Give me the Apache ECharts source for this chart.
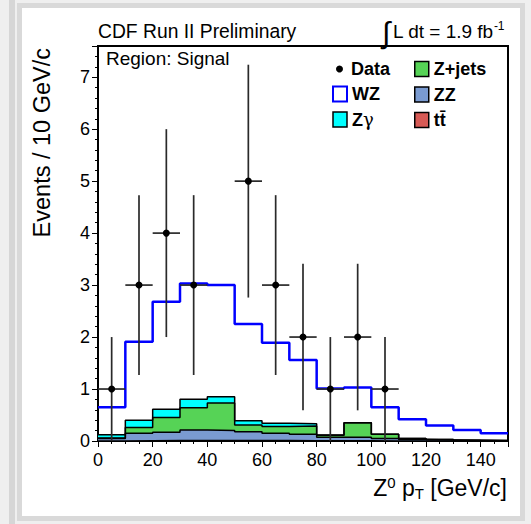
<!DOCTYPE html>
<html><head><meta charset="utf-8">
<script src="https://cdn.jsdelivr.net/npm/echarts@6/dist/echarts.min.js"></script>
<style>html,body{margin:0;padding:0;background:#efefef}#c{width:531px;height:524px}</style>
</head><body><div id="c"></div>
<script>
// ---- data ----
const binEdges = [0,10,20,30,40,50,60,70,80,90,100,110,120,130,140,150];
const ttbar  = [0,0.005,0.01,0.012,0.012,0.01,0.008,0.005,0.004,0.004,0.002,0,0,0,0];
const zz     = [0.05,0.145,0.16,0.2,0.19,0.17,0.142,0.125,0.066,0.066,0.048,0.03,0.02,0.01,0.005];
const zjets  = [0.01,0.11,0.28,0.43,0.53,0.13,0.13,0.16,0.04,0.28,0.08,0.02,0.01,0.005,0.005];
const zgamma = [0.06,0.14,0.16,0.16,0.12,0.08,0.06,0.04,0.005,0,0,0,0,0,0];
const wz     = [0.53,1.51,2.07,2.23,2.15,1.86,1.55,1.23,0.895,0.68,0.52,0.37,0.27,0.195,0.14];
const dataX   = [5,15,25,35,55,65,75,85,95,105];
const dataY   = [1,3,4,3,5,3,2,1,2,1];
const dataErr = [1.0,1.73,2.0,1.73,2.24,1.73,1.41,1.0,1.41,1.0];
const binWidth = 10;
const xRange = [0,150], xStep = 20;
const yRange = [0,7.6], yStep = 1;

const F = "'Liberation Sans', Arial, Helvetica, sans-serif";
const C = {tt:'#d65a55', zz:'#7a9bd1', zj:'#56d356', zg:'#00ffff', wz:'#0000ff'};

// stack the contributions (THStack style: each layer drawn from 0, top layer first)
function addArr(a, b){ return a.map((v,i)=>v + b[i]); }
const cTT = ttbar.slice();
const cZZ = addArr(cTT, zz);
const cZJ = addArr(cZZ, zjets);
const cZG = addArr(cZJ, zgamma);
const cWZ = addArr(cZG, wz);

function steps(v){
  const d = v.map((y,i)=>[binEdges[i], y]);
  d.push([binEdges[binEdges.length-1], v[v.length-1]]);
  return d;
}
function layer(name, vals, fill){
  return {name, type:'line', step:'end', data:steps(vals), symbol:'none', showSymbol:false,
    lineStyle:{color:'#000', width:1.5}, areaStyle:{color:fill, opacity:1, origin:'start'},
    itemStyle:{color:fill}, color:fill, silent:true};
}

const chart = echarts.init(document.getElementById('c'), null, {renderer:'svg'});
const axisCommon = {
  axisLine:{show:true, lineStyle:{color:'#000', width:2}},
  axisTick:{show:true, length:6, lineStyle:{color:'#000', width:1}},
  splitLine:{show:false}
};
const lab = {color:'#000', fontSize:18, fontFamily:F, showMaxLabel:false};
const legText = {fontSize:18, fontWeight:'bold', fontFamily:F, color:'#000',
  rich:{b:{fontSize:18, fontWeight:'bold', fontFamily:F, color:'#000'},
        g:{fontSize:18, fontWeight:'normal', fontFamily:"'DejaVu Serif', serif", color:'#000'}}};
chart.setOption({
  animation:false,
  grid:{left:98, right:23, top:46, bottom:83, show:true, borderColor:'#000', borderWidth:2, backgroundColor:'transparent'},
  xAxis:Object.assign({type:'value', min:xRange[0], max:xRange[1], interval:xStep,
    minorTick:{show:true, splitNumber:4, length:3, lineStyle:{color:'#000', width:1}},
    axisLabel:Object.assign({margin:10}, lab)}, axisCommon),
  yAxis:Object.assign({type:'value', min:yRange[0], max:yRange[1], interval:yStep,
    minorTick:{show:true, splitNumber:5, length:3, lineStyle:{color:'#000', width:1}},
    axisLabel:Object.assign({margin:8}, lab)}, axisCommon),
  legend:[
    {data:[{name:'Data', icon:'circle'}], left:336, top:60, orient:'vertical', itemWidth:7, itemHeight:7, padding:0,
     selectedMode:false, textStyle:Object.assign({padding:[0,0,0,3]}, legText)},
    {data:[{name:'WZ', icon:'rect', itemStyle:{color:'#ffffff', borderColor:C.wz, borderWidth:2}},
           {name:'Z\u03b3', icon:'rect', itemStyle:{color:C.zg, borderColor:'#000', borderWidth:1.5}}],
     left:332, top:85, orient:'vertical', itemWidth:14, itemHeight:15, itemGap:7.5, padding:0, selectedMode:false,
     formatter:function(n){ return n === 'Z\u03b3' ? '{b|Z}{g|\u03b3}' : '{b|' + n + '}'; },
     textStyle:legText},
    {data:[{name:'Z+jets', icon:'rect', itemStyle:{color:C.zj, borderColor:'#000', borderWidth:1.5}},
           {name:'ZZ', icon:'rect', itemStyle:{color:C.zz, borderColor:'#000', borderWidth:1.5}},
           {name:'tt\u0304', icon:'rect', itemStyle:{color:C.tt, borderColor:'#000', borderWidth:1.5}}],
     left:414, top:60, orient:'vertical', itemWidth:14, itemHeight:15, itemGap:7.5, padding:0, selectedMode:false,
     textStyle:legText}
  ],
  series:[
    {name:'WZ', type:'line', step:'end', data:steps(cWZ), symbol:'none', showSymbol:false, z:3,
     lineStyle:{color:C.wz, width:2.5}, itemStyle:{color:C.wz}, color:C.wz, silent:true},
    layer('Z\u03b3', cZG, C.zg),
    layer('Z+jets', cZJ, C.zj),
    layer('ZZ', cZZ, C.zz),
    layer('tt\u0304', cTT, C.tt),
    {name:'Data', type:'custom', z:5, silent:true, itemStyle:{color:'#000'}, color:'#000',
     data:dataX.map((x,i)=>[x, dataY[i], dataErr[i]]), encode:{x:0, y:1},
     renderItem:function(params, api){
       const x=api.value(0), y=api.value(1), e=api.value(2), h=binWidth/2;
       const pt=api.coord([x, y+e]), pb=api.coord([x, Math.max(0, y-e)]);
       const pl=api.coord([x-h, y]), pr=api.coord([x+h, y]), c=api.coord([x, y]);
       const st={stroke:'#2a2a2a', lineWidth:1.7};
       return {type:'group', children:[
         {type:'line', shape:{x1:pt[0], y1:pt[1], x2:pb[0], y2:pb[1]}, style:st},
         {type:'line', shape:{x1:pl[0], y1:pl[1], x2:pr[0], y2:pr[1]}, style:st},
         {type:'circle', shape:{cx:c[0], cy:c[1], r:3.5}, style:{fill:'#000'}}
       ]};
     }}
  ],
  graphic:[
    {type:'rect', z:-10, silent:true, shape:{x:9, y:0, width:6, height:524}, style:{fill:'#d6d6d6'}},
    {type:'rect', z:-9, silent:true, shape:{x:19.5, y:5.5, width:503, height:513}, style:{fill:'#fff', stroke:'#d9d9d9', lineWidth:5}},
    {type:'text', z:50, x:98, y:31, style:{text:'CDF Run II Preliminary', fontSize:19.3, fontFamily:F, fill:'#000', align:'left', verticalAlign:'middle'}},
    {type:'text', z:50, x:382, y:32, style:{text:'\u222b', fontSize:30, fontFamily:F, fill:'#000', align:'left', verticalAlign:'middle'}},
    {type:'text', z:50, x:393, y:31, style:{text:'{a|L dt = 1.9 fb}{s|-1}', fill:'#000', align:'left', verticalAlign:'middle',
      rich:{a:{fontSize:19, fontFamily:F, lineHeight:22}, s:{fontSize:12, fontFamily:F, lineHeight:13, verticalAlign:'top'}}}},
    {type:'text', z:50, x:106, y:58, style:{text:'Region: Signal', fontSize:19, fontFamily:F, fill:'#000', align:'left', verticalAlign:'middle'}},
    {type:'text', z:50, x:42, y:48, rotation:Math.PI/2, style:{text:'Events / 10 GeV/c', fontSize:23.5, fontFamily:F, fill:'#000', align:'right', verticalAlign:'middle'}},
    {type:'text', z:50, x:507, y:488, style:{text:'{a|Z}{p|0}{a| p}{b|T}{a| [GeV/c]}', fill:'#000', align:'right', verticalAlign:'middle',
      rich:{a:{fontSize:23, fontFamily:F, lineHeight:26}, p:{fontSize:15, fontFamily:F, lineHeight:16, verticalAlign:'top'},
            b:{fontSize:15, fontFamily:F, lineHeight:14, verticalAlign:'bottom'}}}}
  ]
});
</script></body></html>
